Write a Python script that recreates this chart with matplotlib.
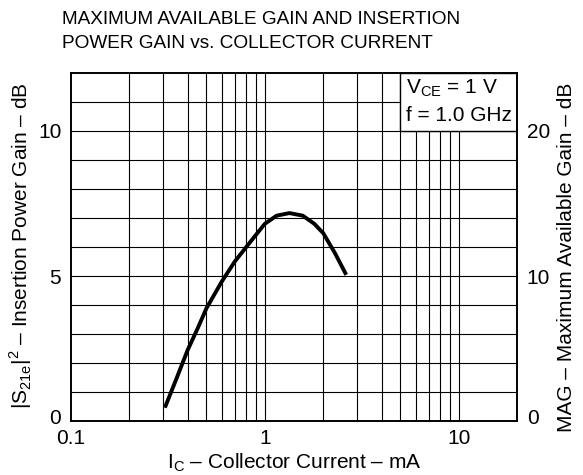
import matplotlib
matplotlib.use("Agg")
import matplotlib.pyplot as plt
import matplotlib.transforms as mtransforms
from matplotlib.patches import Rectangle

plt.rcParams['font.family'] = ['Liberation Sans', 'DejaVu Sans']
plt.rcParams['mathtext.fontset'] = 'custom'
plt.rcParams['mathtext.rm'] = 'Liberation Sans'

# Data
ic_ma = [0.305, 0.35, 0.4, 0.45, 0.5, 0.6, 0.7, 0.8, 0.9, 1.0, 1.15, 1.34, 1.57, 1.8, 2.0, 2.3, 2.63]
gain_db = [0.46, 1.46, 2.45, 3.19, 3.89, 4.81, 5.5, 5.99, 6.42, 6.8, 7.08, 7.17, 7.08, 6.8, 6.48, 5.79, 5.04]
x_ticks = [0.1, 1, 10]
x_ticklabels = ["0.1", "1", "10"]
left_ticks = [0, 5, 10]
right_ticks = [0, 10, 20]
title_text = "MAXIMUM AVAILABLE GAIN AND INSERTION\nPOWER GAIN vs. COLLECTOR CURRENT"

FS = 15

fig = plt.figure(figsize=(5.83, 4.75), dpi=100)
ax = fig.add_axes([71/583, 1-421/475, (517-71)/583, (421-73)/475])

ax.set_xscale('log')
ax.set_xlim(0.1, 20)
ax.set_ylim(0, 12)

# grid
grid_x = [0.2, 0.3, 0.4, 0.5, 0.6, 0.7, 0.8, 0.9, 1, 2, 3, 4, 5, 6, 7, 8, 9, 10]
for gx in grid_x:
    ax.axvline(gx, color='black', lw=0.8, zorder=1)
for gy in range(1, 12):
    ax.axhline(gy, color='black', lw=0.8, zorder=1)

# condition box
ax.add_patch(Rectangle((5, 10), 15, 2, facecolor='white', edgecolor='black', lw=1.0, zorder=2))
ax.text(5.35, 11.48, r'V$_{\mathregular{CE}}$ = 1 V', fontsize=FS, va='center', ha='left', zorder=3)
ax.text(5.35, 10.55, 'f = 1.0 GHz', fontsize=FS, va='center', ha='left', zorder=3)

ax.plot(ic_ma, gain_db, color='black', lw=2.8, solid_capstyle='butt', solid_joinstyle='round', zorder=4)

ax.set_xticks(x_ticks)
ax.set_xticklabels(x_ticklabels)
ax.xaxis.set_minor_locator(matplotlib.ticker.NullLocator())
ax.set_yticks(left_ticks)
ax.tick_params(axis='both', length=0, labelsize=FS)
ax.tick_params(axis='x', pad=6)
ax.tick_params(axis='y', pad=7)
for s in ax.spines.values():
    s.set_linewidth(1.2)

ax2 = ax.twinx()
ax2.set_ylim(0, 24)
ax2.set_yticks(right_ticks)
ax2.tick_params(axis='y', length=0, labelsize=FS, pad=7)
for s in ax2.spines.values():
    s.set_linewidth(1.2)

# lift the "0" labels slightly so they clear the x tick labels
up = mtransforms.ScaledTranslation(0, 5/100, fig.dpi_scale_trans)
t0 = ax.yaxis.get_major_ticks()[0]
t0.label1.set_transform(t0.label1.get_transform() + up)
t1 = ax2.yaxis.get_major_ticks()[0]
t1.label2.set_transform(t1.label2.get_transform() + up)

ax.set_xlabel(r'I$_{\mathregular{C}}$ – Collector Current – mA', fontsize=FS, labelpad=2)

fig.text(21/583, 1-246/475, r'|S$_{\mathregular{21e}}$|$^{\mathregular{2}}$ – Insertion Power Gain – dB',
         fontsize=FS, rotation=90, ha='center', va='center')
fig.text(567/583, 1-257/475, 'MAG – Maximum Available Gain – dB',
         fontsize=FS, rotation=90, ha='center', va='center')

fig.text(62/583, 1-11/475, title_text, fontsize=13.7, ha='left', va='top', linespacing=1.5)

fig.savefig('out.png', dpi=100)
